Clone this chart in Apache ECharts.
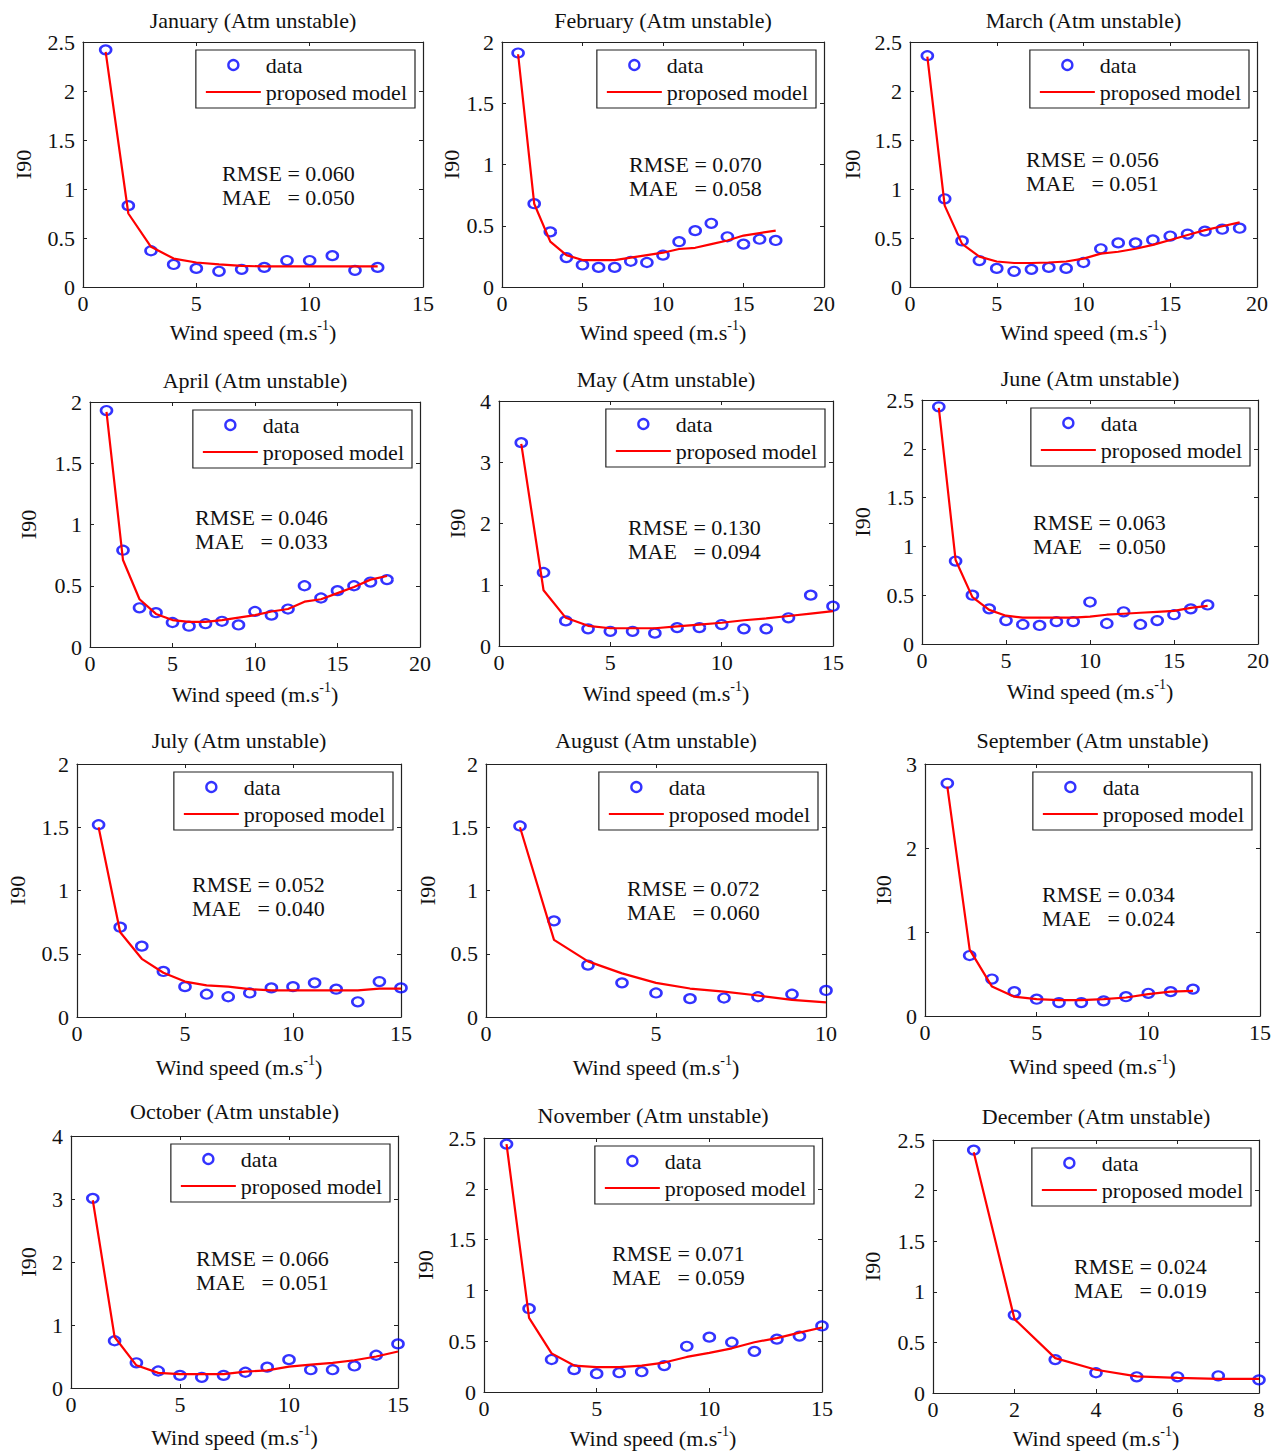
<!DOCTYPE html>
<html>
<head>
<meta charset="utf-8">
<title>I90 vs wind speed (Atm unstable)</title>
<script src="https://cdn.jsdelivr.net/npm/echarts@6/dist/echarts.min.js"></script>
<style>
html, body { margin: 0; padding: 0; background: #fff; }
#main { width: 1280px; height: 1454px; }
</style>
</head>
<body>
<div id="main"></div>
<script>
// wind speed bins (m/s)
var windSpeed = [1, 2, 3, 4, 5, 6, 7, 8, 9, 10, 11, 12, 13, 14, 15, 16, 17, 18, 19];

var months = ['January', 'February', 'March', 'April', 'May', 'June',
              'July', 'August', 'September', 'October', 'November', 'December'];

var janObs   = [2.42, 0.83, 0.37, 0.23, 0.19, 0.16, 0.18, 0.20, 0.27, 0.27, 0.32, 0.17, 0.20];
var janModel = [2.40, 0.75, 0.41, 0.29, 0.25, 0.23, 0.215, 0.21, 0.21, 0.21, 0.21, 0.21, 0.21];
var febObs   = [1.91, 0.68, 0.45, 0.24, 0.18, 0.16, 0.16, 0.21, 0.20, 0.26, 0.37, 0.46, 0.52, 0.41, 0.35, 0.39, 0.38];
var febModel = [1.90, 0.68, 0.37, 0.26, 0.22, 0.22, 0.22, 0.24, 0.26, 0.28, 0.31, 0.32, 0.35, 0.38, 0.42, 0.44, 0.46];
var marObs   = [2.36, 0.90, 0.47, 0.27, 0.19, 0.16, 0.18, 0.20, 0.19, 0.25, 0.39, 0.45, 0.45, 0.48, 0.52, 0.54, 0.57, 0.59, 0.60];
var marModel = [2.35, 0.83, 0.44, 0.31, 0.26, 0.245, 0.245, 0.25, 0.26, 0.29, 0.34, 0.36, 0.39, 0.43, 0.48, 0.53, 0.58, 0.62, 0.66];
var aprObs   = [1.93, 0.79, 0.32, 0.28, 0.20, 0.17, 0.19, 0.21, 0.18, 0.29, 0.26, 0.31, 0.50, 0.40, 0.46, 0.50, 0.53, 0.55];
var aprModel = [1.92, 0.71, 0.39, 0.27, 0.22, 0.205, 0.205, 0.22, 0.24, 0.26, 0.29, 0.31, 0.37, 0.39, 0.44, 0.49, 0.55, 0.58];
var mayObs   = [3.32, 1.20, 0.41, 0.28, 0.24, 0.24, 0.21, 0.30, 0.30, 0.35, 0.28, 0.28, 0.46, 0.83, 0.65];
var mayModel = [3.30, 0.91, 0.46, 0.33, 0.29, 0.29, 0.29, 0.32, 0.35, 0.38, 0.42, 0.45, 0.49, 0.53, 0.57];
var junObs   = [2.43, 0.85, 0.50, 0.36, 0.24, 0.20, 0.19, 0.23, 0.23, 0.43, 0.21, 0.33, 0.20, 0.24, 0.30, 0.36, 0.40];
var junModel = [2.42, 0.86, 0.48, 0.35, 0.29, 0.27, 0.27, 0.27, 0.27, 0.28, 0.30, 0.31, 0.32, 0.33, 0.34, 0.37, 0.39];
var julObs   = [1.52, 0.71, 0.56, 0.36, 0.24, 0.18, 0.16, 0.19, 0.23, 0.24, 0.27, 0.22, 0.12, 0.28, 0.23];
var julModel = [1.50, 0.67, 0.46, 0.35, 0.28, 0.25, 0.24, 0.22, 0.21, 0.21, 0.21, 0.21, 0.21, 0.225, 0.225];
var augObs   = [1.51, 0.76, 0.41, 0.27, 0.19, 0.145, 0.15, 0.16, 0.18, 0.21];
var augModel = [1.50, 0.61, 0.44, 0.345, 0.27, 0.225, 0.20, 0.17, 0.135, 0.115];
var sepObs   = [2.77, 0.72, 0.44, 0.29, 0.20, 0.16, 0.16, 0.18, 0.23, 0.27, 0.29, 0.32];
var sepModel = [2.73, 0.79, 0.35, 0.23, 0.20, 0.19, 0.19, 0.20, 0.22, 0.26, 0.29, 0.30];
var octObs   = [3.01, 0.75, 0.40, 0.27, 0.20, 0.17, 0.20, 0.25, 0.33, 0.45, 0.29, 0.29, 0.35, 0.52, 0.70];
var octModel = [2.98, 0.81, 0.36, 0.24, 0.22, 0.22, 0.22, 0.26, 0.28, 0.34, 0.37, 0.40, 0.44, 0.50, 0.58];
var novObs   = [2.44, 0.82, 0.32, 0.22, 0.18, 0.19, 0.20, 0.26, 0.45, 0.54, 0.49, 0.40, 0.52, 0.55, 0.65];
var novModel = [2.44, 0.73, 0.38, 0.26, 0.245, 0.245, 0.26, 0.29, 0.345, 0.385, 0.43, 0.49, 0.53, 0.585, 0.635];
var decObs   = [2.40, 0.77, 0.33, 0.20, 0.16, 0.16, 0.17, 0.13];
var decModel = [2.38, 0.73, 0.345, 0.23, 0.165, 0.15, 0.14, 0.14];

var obsList = [janObs, febObs, marObs, aprObs, mayObs, junObs, julObs, augObs, sepObs, octObs, novObs, decObs];
var modelList = [janModel, febModel, marModel, aprModel, mayModel, junModel, julModel, augModel, sepModel, octModel, novModel, decModel];

// axis ranges / tick steps
var xMax  = [15, 20, 20, 20, 15, 20, 15, 10, 15, 15, 15, 8];
var xStep = [5, 5, 5, 5, 5, 5, 5, 5, 5, 5, 5, 2];
var yMax  = [2.5, 2, 2.5, 2, 4, 2.5, 2, 2, 3, 4, 2.5, 2.5];
var yStep = [0.5, 0.5, 0.5, 0.5, 1, 0.5, 0.5, 0.5, 1, 1, 0.5, 0.5];

var rmse = ['0.060', '0.070', '0.056', '0.046', '0.130', '0.063', '0.052', '0.072', '0.034', '0.066', '0.071', '0.024'];
var mae  = ['0.050', '0.058', '0.051', '0.033', '0.094', '0.050', '0.040', '0.060', '0.024', '0.051', '0.059', '0.019'];

// panel layout in px: [left, top, width, height]
var boxes = [
    [83, 42, 340, 245], [502, 42, 322, 245], [910, 42, 347, 245],
    [90, 402, 330, 245], [499, 401, 334, 245], [922, 400, 336, 244],
    [77, 764, 324, 253], [486, 764, 340, 253], [925, 764, 335, 252],
    [71, 1136, 327, 252], [484, 1138, 338, 254], [933, 1140, 326, 253]
];
var titleCy = [20, 20, 20, 380, 379, 378, 740, 740, 740, 1111, 1115, 1116];
var statPos = [[222, 161], [629, 152], [1026, 147], [195, 505], [628, 515], [1033, 510],
               [192, 872], [627, 876], [1042, 882], [196, 1246], [612, 1241], [1074, 1254]];
var yNameGap = [49, 38, 47, 51, 31, 49, 49, 48, 31, 32, 48, 50];
var xNameGap = [31, 31, 31, 33, 33, 33, 36, 36, 36, 35, 32, 31];

var FONT = '"Liberation Serif", "Times New Roman", serif';
var FS = 22;
var INK = '#111';
var AXIS = '#222';

var chart = echarts.init(document.getElementById('main'), null, { renderer: 'svg' });

var grids = [], xAxes = [], yAxes = [], series = [], titles = [], legends = [];

function pairs(vals) {
    return vals.map(function (v, i) { return [windSpeed[i], v]; });
}

for (var i = 0; i < 12; i++) {
    var b = boxes[i];
    grids.push({ left: b[0], top: b[1], width: b[2], height: b[3], outerBoundsMode: 'none' });

    var baseX = {
        gridIndex: i, type: 'value', min: 0, max: xMax[i], interval: xStep[i],
        splitLine: { show: false },
        axisLine: { show: true, onZero: false, lineStyle: { color: AXIS, width: 1.2 } },
        axisTick: { show: true, inside: true, length: 4, lineStyle: { color: AXIS } }
    };
    var baseY = {
        gridIndex: i, type: 'value', min: 0, max: yMax[i], interval: yStep[i],
        splitLine: { show: false },
        axisLine: { show: true, onZero: false, lineStyle: { color: AXIS, width: 1.2 } },
        axisTick: { show: true, inside: true, length: 4, lineStyle: { color: AXIS } }
    };

    // bottom / left axes with labels
    xAxes.push(Object.assign({}, baseX, {
        position: 'bottom',
        axisLabel: { color: INK, fontFamily: FONT, fontSize: FS, margin: 5 },
        name: '{n|Wind speed (m.s}{s|-1}{n|)}',
        nameLocation: 'middle',
        nameGap: xNameGap[i],
        nameTextStyle: {
            rich: {
                n: { fontFamily: FONT, fontSize: FS, color: INK, lineHeight: 25, verticalAlign: 'bottom' },
                s: { fontFamily: FONT, fontSize: 14, color: INK, verticalAlign: 'top' }
            }
        }
    }));
    yAxes.push(Object.assign({}, baseY, {
        position: 'left',
        axisLabel: { color: INK, fontFamily: FONT, fontSize: FS, margin: 8 },
        name: 'I90',
        nameLocation: 'middle',
        nameRotate: 90,
        nameGap: yNameGap[i],
        nameTextStyle: { color: INK, fontFamily: FONT, fontSize: FS }
    }));
    // top / right axes: box outline + inner ticks only
    xAxes.push(Object.assign({}, baseX, { position: 'top', axisLabel: { show: false } }));
    yAxes.push(Object.assign({}, baseY, { position: 'right', axisLabel: { show: false } }));

    series.push({
        name: 'data',
        type: 'scatter',
        xAxisIndex: 2 * i, yAxisIndex: 2 * i,
        symbol: 'circle',
        symbolSize: [11, 9],
        itemStyle: { color: 'rgba(255,255,255,0)', borderColor: '#0000ff', borderWidth: 2.4 },
        z: 2,
        data: pairs(obsList[i])
    });
    series.push({
        name: 'proposed model',
        type: 'line',
        xAxisIndex: 2 * i, yAxisIndex: 2 * i,
        symbol: 'none',
        color: '#ff0000',
        lineStyle: { color: '#ff0000', width: 2.2 },
        z: 3,
        data: pairs(modelList[i])
    });

    titles.push({
        text: months[i] + ' (Atm unstable)',
        left: b[0] + b[2] / 2,
        top: titleCy[i] - 12,
        textAlign: 'center',
        padding: 0,
        textStyle: { fontFamily: FONT, fontSize: FS, fontWeight: 'normal', color: INK, lineHeight: 24 }
    });
    titles.push({
        text: 'RMSE = ' + rmse[i] + '\nMAE\u00a0\u00a0\u00a0= ' + mae[i],
        left: statPos[i][0],
        top: statPos[i][1],
        textAlign: 'left',
        padding: 0,
        textStyle: { fontFamily: FONT, fontSize: FS, fontWeight: 'normal', color: INK, lineHeight: 24 }
    });

    legends.push({
        orient: 'vertical',
        right: 1280 - (b[0] + b[2]) + 8,
        top: b[1] + 8,
        data: [
            { name: 'data', icon: 'circle',
              itemStyle: { color: '#fff', borderColor: '#0000ff', borderWidth: 2.4 } },
            { name: 'proposed model', icon: 'path://M0,0h55v2.2h-55z',
              itemStyle: { color: '#ff0000', borderWidth: 0 } }
        ],
        symbolKeepAspect: true,
        itemWidth: 55,
        itemHeight: 10,
        itemGap: 5,
        padding: [4, 8, 5, 10],
        backgroundColor: '#fff',
        borderColor: AXIS,
        borderWidth: 1.2,
        borderRadius: 0,
        selectedMode: false,
        textStyle: { fontFamily: FONT, fontSize: FS, color: INK }
    });
}

var option = {
    backgroundColor: '#fff',
    animation: false,
    title: titles,
    legend: legends,
    grid: grids,
    xAxis: xAxes,
    yAxis: yAxes,
    series: series
};
chart.setOption(option);
</script>
</body>
</html>
